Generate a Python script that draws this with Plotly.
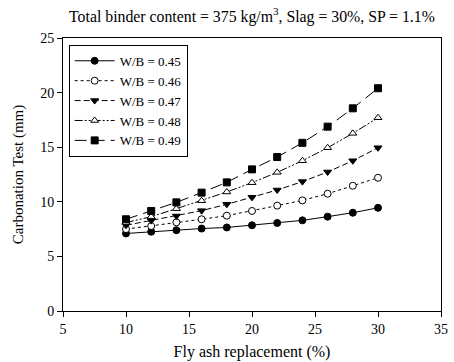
import plotly.graph_objects as go

fly_ash = [10, 12, 14, 16, 18, 20, 22, 24, 26, 28, 30]
wb_045 = [7.1, 7.26, 7.4, 7.55, 7.65, 7.85, 8.06, 8.3, 8.64, 9.0, 9.45]
wb_046 = [7.5, 7.78, 8.12, 8.4, 8.73, 9.16, 9.65, 10.13, 10.74, 11.47, 12.2]
wb_047 = [7.85, 8.28, 8.7, 9.19, 9.77, 10.41, 11.08, 11.85, 12.73, 13.76, 14.95]
wb_048 = [8.1, 8.64, 9.37, 10.1, 10.9, 11.75, 12.7, 13.76, 14.95, 16.27, 17.7]
wb_049 = [8.4, 9.16, 9.95, 10.84, 11.78, 12.97, 14.1, 15.4, 16.88, 18.56, 20.4]

names = ["W/B = 0.45", "W/B = 0.46", "W/B = 0.47", "W/B = 0.48", "W/B = 0.49"]
series = [wb_045, wb_046, wb_047, wb_048, wb_049]
dashes = ["solid", "dot", "6px,3px", "8px,2px,2px,2px,2px,2px", "12px,6px"]
symbols = ["circle", "circle", "triangle-down", "triangle-up", "square"]
fills = ["black", "white", "black", "white", "black"]

fig = go.Figure()
for n, y, d, s, f in zip(names, series, dashes, symbols, fills):
    fig.add_trace(go.Scatter(
        x=fly_ash, y=y, name=n, mode="lines+markers",
        line=dict(color="black", width=1, dash=d),
        marker=dict(symbol=s, size=7, color=f, line=dict(color="black", width=1)),
    ))

font = "Liberation Serif"
fig.update_layout(
    width=454, height=362,
    margin=dict(l=63, r=13, t=38, b=51),
    paper_bgcolor="white", plot_bgcolor="white",
    font=dict(family=font, size=14, color="black"),
    title=dict(text="Total binder content = 375 kg/m<sup>3</sup>, Slag = 30%, SP = 1.1%",
               x=0.555, xanchor="center", y=0.955, yanchor="middle",
               font=dict(family=font, size=15.8, color="black")),
    showlegend=True,
    legend=dict(x=0.015, y=0.975, xanchor="left", yanchor="top",
                bordercolor="black", borderwidth=1, bgcolor="white",
                font=dict(family=font, size=13), tracegroupgap=0,
                itemwidth=40),
    xaxis=dict(range=[5, 35], tickvals=[5, 10, 15, 20, 25, 30, 35],
               showgrid=False, zeroline=False, showline=True, linecolor="black",
               linewidth=1, mirror=True, ticks="outside", ticklen=5, tickcolor="black",
               tickfont=dict(family=font, size=14), automargin=False,
               title=dict(text="Fly ash replacement (%)", standoff=10,
                          font=dict(family=font, size=16))),
    yaxis=dict(range=[0, 25], tickvals=[0, 5, 10, 15, 20, 25],
               showgrid=False, zeroline=False, showline=True, linecolor="black",
               linewidth=1, mirror=True, ticks="outside", ticklen=5, tickcolor="black",
               tickfont=dict(family=font, size=14), automargin=False,
               title=dict(text="Carbonation Test (mm)", standoff=12,
                          font=dict(family=font, size=15))),
)

fig.write_html("out.html")
